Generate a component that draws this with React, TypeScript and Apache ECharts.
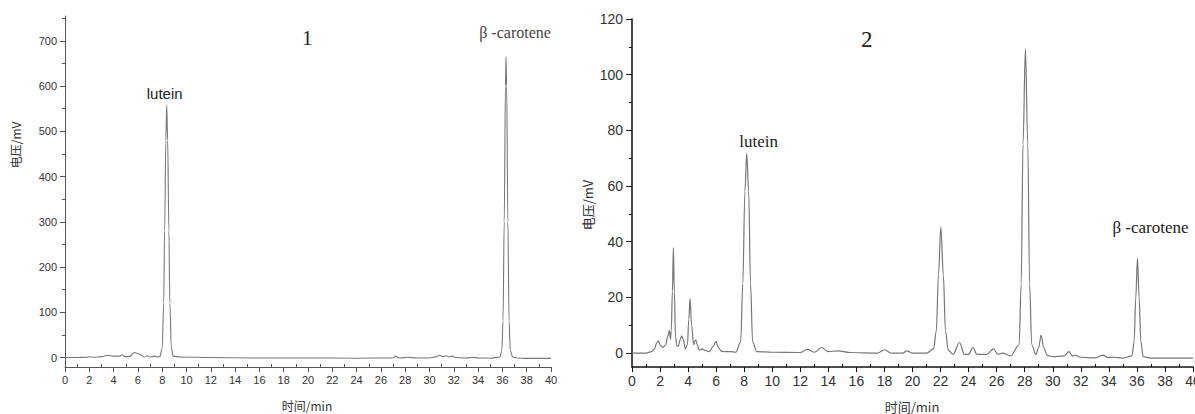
import React, { useEffect, useRef } from "react";
import * as echarts from "echarts";

// Chromatogram 1 (time/min, voltage/mV)
const time1: number[] = [0, 1, 1.8, 2, 2.3, 3, 3.5, 4, 4.5, 4.7, 4.9, 5.3, 5.7, 6.0, 6.3, 6.5, 6.8, 7.0, 7.2, 7.4, 7.6, 7.8, 8.0, 8.12, 8.2, 8.3, 8.37, 8.45, 8.55, 8.63, 8.75, 8.9, 9.5, 12, 16, 20, 24, 27, 27.2, 27.5, 28.2, 29, 30, 30.6, 30.8, 31.1, 31.4, 31.6, 31.9, 32.1, 33, 33.6, 34, 35, 35.8, 35.95, 36.05, 36.15, 36.25, 36.3, 36.35, 36.45, 36.55, 36.65, 36.85, 37.2, 38, 40];
const volt1: number[] = [0, 0, 0.5, 1.5, 0.5, 2, 5, 3, 3, 6, 2, 2, 11, 9, 5, 1, 4, 1, 2, 3, 1, 2, 20, 120, 280, 480, 558, 480, 280, 120, 20, 3, 1, 0, -1, -1, -1.5, -1, 3, -1, 0.5, -1, -1, 2, 5, 2, 4, 1, 3, 0, -1, 0.5, -1, -1.5, 1, 15, 80, 300, 600, 665, 600, 300, 80, 15, 1, -1, -2, -2];

// Chromatogram 2
const time2: number[] = [0, 1.0, 1.4, 1.6, 1.75, 1.88, 2.0, 2.2, 2.4, 2.55, 2.66, 2.74, 2.8, 2.88, 2.95, 3.02, 3.1, 3.2, 3.3, 3.45, 3.54, 3.65, 3.8, 3.95, 4.05, 4.14, 4.25, 4.4, 4.5, 4.56, 4.65, 4.8, 5.0, 5.2, 5.5, 5.8, 5.99, 6.15, 6.4, 7, 7.4, 7.75, 7.9, 8.05, 8.18, 8.32, 8.45, 8.6, 8.9, 10, 12, 12.5, 13, 13.5, 14, 14.7, 15.5, 17.5, 18, 18.5, 19.3, 19.6, 20, 21, 21.5, 21.7, 21.85, 22.02, 22.2, 22.35, 22.55, 22.9, 23.35, 23.7, 24, 24.3, 24.6, 25.3, 25.77, 26.1, 26.4, 27, 27.6, 27.75, 27.88, 28.05, 28.22, 28.35, 28.5, 28.8, 29.0, 29.17, 29.35, 29.6, 30, 30.8, 31.15, 31.4, 31.6, 32, 33, 33.6, 33.9, 34.3, 35, 35.65, 35.8, 35.92, 36.04, 36.16, 36.28, 36.45, 37, 40];
const volt2: number[] = [0, 0, 0.5, 1.5, 3.5, 4.4, 3, 2, 3, 6, 8.2, 5, 8, 22, 37.9, 22, 6, 2.5, 2.5, 5, 6.2, 5, 1.5, 3, 12, 19.6, 10, 3, 4.5, 4.7, 3, 1, 1.5, 1, 0.5, 2.5, 4.2, 2, 0.6, 0.5, 0.3, 4, 25, 58, 71.7, 58, 25, 4, 0.5, 0.3, 0.2, 1.3, 0.3, 2, 0.5, 0.8, 0.2, 0, 1.2, 0, 0, 0.8, 0, 0, 1.5, 8, 28, 45.3, 28, 8, 1, -0.5, 3.8, -0.5, -0.5, 2.0, -0.5, -0.5, 1.5, -0.5, 0, -1, 3, 25, 75, 109.3, 75, 25, 3, -0.5, 2, 6.5, 2, -0.8, -1.3, -1, 0.5, -1, -0.8, -1.5, -1.7, -0.7, -1.6, -1.5, -1.8, -1, 4, 20, 34, 20, 4, -1.3, -1.8, -1.8];

// Peak annotations (retention time of the labelled peak)
const peakNames: string[] = ["lutein", "β -carotene"];
const peakTimes1: number[] = [8.37, 36.3];
const peakTimes2: number[] = [8.18, 36.04];

// Axis ticks
const yMajor1: number[] = [0, 100, 200, 300, 400, 500, 600, 700];
const yMinor1: number[] = [50, 150, 250, 350, 450, 550, 650, 750];
const yMajor2: number[] = [0, 20, 40, 60, 80, 100, 120];
const yMinor2: number[] = [10, 30, 50, 70, 90, 110];
const xMinor: number[] = [1, 3, 5, 7, 9, 11, 13, 15, 17, 19, 21, 23, 25, 27, 29, 31, 33, 35, 37, 39];

const pairs = (t: number[], v: number[]) => t.map((x, i) => [x, v[i]]);
const valueAt = (t: number[], v: number[], x: number) => v[t.indexOf(x)];

const SANS = "'Liberation Sans', Arial, sans-serif";
const SERIF = "'Liberation Serif', 'Times New Roman', serif";
const CJK = "'Noto Sans CJK SC', 'Liberation Sans', sans-serif";

export default function App() {
  const ref = useRef<HTMLDivElement>(null);

  useEffect(() => {
    document.body.style.margin = "0";
    const chart = echarts.init(ref.current!, null, { renderer: "svg" });

    const mainX = (gridIndex: number, color: string, width: number, fs: number, margin: number) => ({
      type: "value",
      gridIndex,
      position: "bottom",
      min: 0,
      max: 40,
      interval: 2,
      axisLine: { show: true, onZero: false, lineStyle: { color, width } },
      axisTick: { show: true, inside: false, length: 5, lineStyle: { color, width: 1 } },
      axisLabel: { show: true, margin, fontSize: fs, color: "#333", fontFamily: SANS },
      splitLine: { show: false },
    });
    const minorX = (gridIndex: number, color: string) => ({
      type: "value",
      gridIndex,
      position: "bottom",
      min: 0,
      max: 40,
      axisLine: { show: false, onZero: false },
      axisTick: { show: true, inside: true, length: 3, customValues: xMinor, lineStyle: { color, width: 1 } },
      axisLabel: { show: false },
      splitLine: { show: false },
    });
    const mainY = (gridIndex: number, min: number, max: number, ticks: number[], color: string, width: number, fs: number, len: number) => ({
      type: "value",
      gridIndex,
      position: "left",
      min,
      max,
      axisLine: { show: true, onZero: false, lineStyle: { color, width } },
      axisTick: { show: true, inside: false, length: len, customValues: ticks, lineStyle: { color, width: 1 } },
      axisLabel: { show: true, customValues: ticks, margin: len + 3, fontSize: fs, color: "#333", fontFamily: SANS },
      splitLine: { show: false },
    });
    const minorY = (gridIndex: number, min: number, max: number, ticks: number[], color: string) => ({
      type: "value",
      gridIndex,
      position: "left",
      min,
      max,
      axisLine: { show: false, onZero: false },
      axisTick: { show: true, inside: false, length: 3, customValues: ticks, lineStyle: { color, width: 1 } },
      axisLabel: { show: false },
      splitLine: { show: false },
    });

    const markPoints = (t: number[], v: number[], times: number[], labels: any[]) => ({
      symbol: "circle",
      symbolSize: 1,
      itemStyle: { color: "rgba(0,0,0,0)" },
      label: { show: true, position: "inside", formatter: "{b}", color: "#222" },
      data: times.map((x, i) => ({
        name: peakNames[i],
        coord: [x, valueAt(t, v, x)],
        label: labels[i],
      })),
    });

    chart.setOption({
      animation: false,
      backgroundColor: "#fff",
      title: [
        { text: "1", left: 297, top: 22, textStyle: { fontFamily: SERIF, fontSize: 21, fontWeight: "normal", color: "#222" } },
        { text: "2", left: 856, top: 23, textStyle: { fontFamily: SERIF, fontSize: 23, fontWeight: "normal", color: "#222" } },
      ],
      grid: [
        { left: 65, top: 16, width: 486, bottom: 47, outerBoundsMode: "none", containLabel: false },
        { left: 632, top: 19, width: 561, bottom: 47, outerBoundsMode: "none", containLabel: false },
      ],
      xAxis: [
        mainX(0, "#555", 1, 11, 7),
        minorX(0, "#555"),
        mainX(1, "#111", 1.5, 14, 7),
        minorX(1, "#111"),
      ],
      yAxis: [
        mainY(0, -21, 755, yMajor1, "#555", 1, 11, 5),
        minorY(0, -21, 755, yMinor1, "#555"),
        mainY(1, -5, 120, yMajor2, "#111", 1.5, 14, 6),
        minorY(1, -5, 120, yMinor2, "#111"),
      ],
      graphic: [
        { type: "text", x: 15, y: 145, rotation: Math.PI / 2, style: { text: "电压/mV", font: `12px ${CJK}`, fill: "#333", align: "center", verticalAlign: "middle" } },
        { type: "text", x: 587, y: 205, rotation: Math.PI / 2, style: { text: "电压/mV", font: `13px ${CJK}`, fill: "#333", align: "center", verticalAlign: "middle" } },
        { type: "text", x: 307, y: 405, style: { text: "时间/min", font: `12px ${CJK}`, fill: "#333", align: "center", verticalAlign: "middle" } },
        { type: "text", x: 912, y: 406, style: { text: "时间/min", font: `13px ${CJK}`, fill: "#333", align: "center", verticalAlign: "middle" } },
      ],
      series: [
        {
          type: "line",
          xAxisIndex: 0,
          yAxisIndex: 0,
          data: pairs(time1, volt1),
          showSymbol: false,
          smooth: 0.35,
          smoothMonotone: "x",
          lineStyle: { color: "#777", width: 1.1 },
          markPoint: markPoints(time1, volt1, peakTimes1, [
            { offset: [-2, -12], fontFamily: SANS, fontSize: 15 },
            { offset: [9, -24], fontFamily: SERIF, fontSize: 16, color: "#444" },
          ]),
        },
        {
          type: "line",
          xAxisIndex: 2,
          yAxisIndex: 2,
          data: pairs(time2, volt2),
          showSymbol: false,
          smooth: 0.35,
          smoothMonotone: "x",
          lineStyle: { color: "#777", width: 1.2 },
          markPoint: markPoints(time2, volt2, peakTimes2, [
            { offset: [12, -12], fontFamily: SERIF, fontSize: 17 },
            { offset: [13, -31], fontFamily: SERIF, fontSize: 17 },
          ]),
        },
      ],
    });

    return () => chart.dispose();
  }, []);

  return <div ref={ref} style={{ position: "fixed", left: 0, top: 0, width: 1195, height: 414 }} />;
}
